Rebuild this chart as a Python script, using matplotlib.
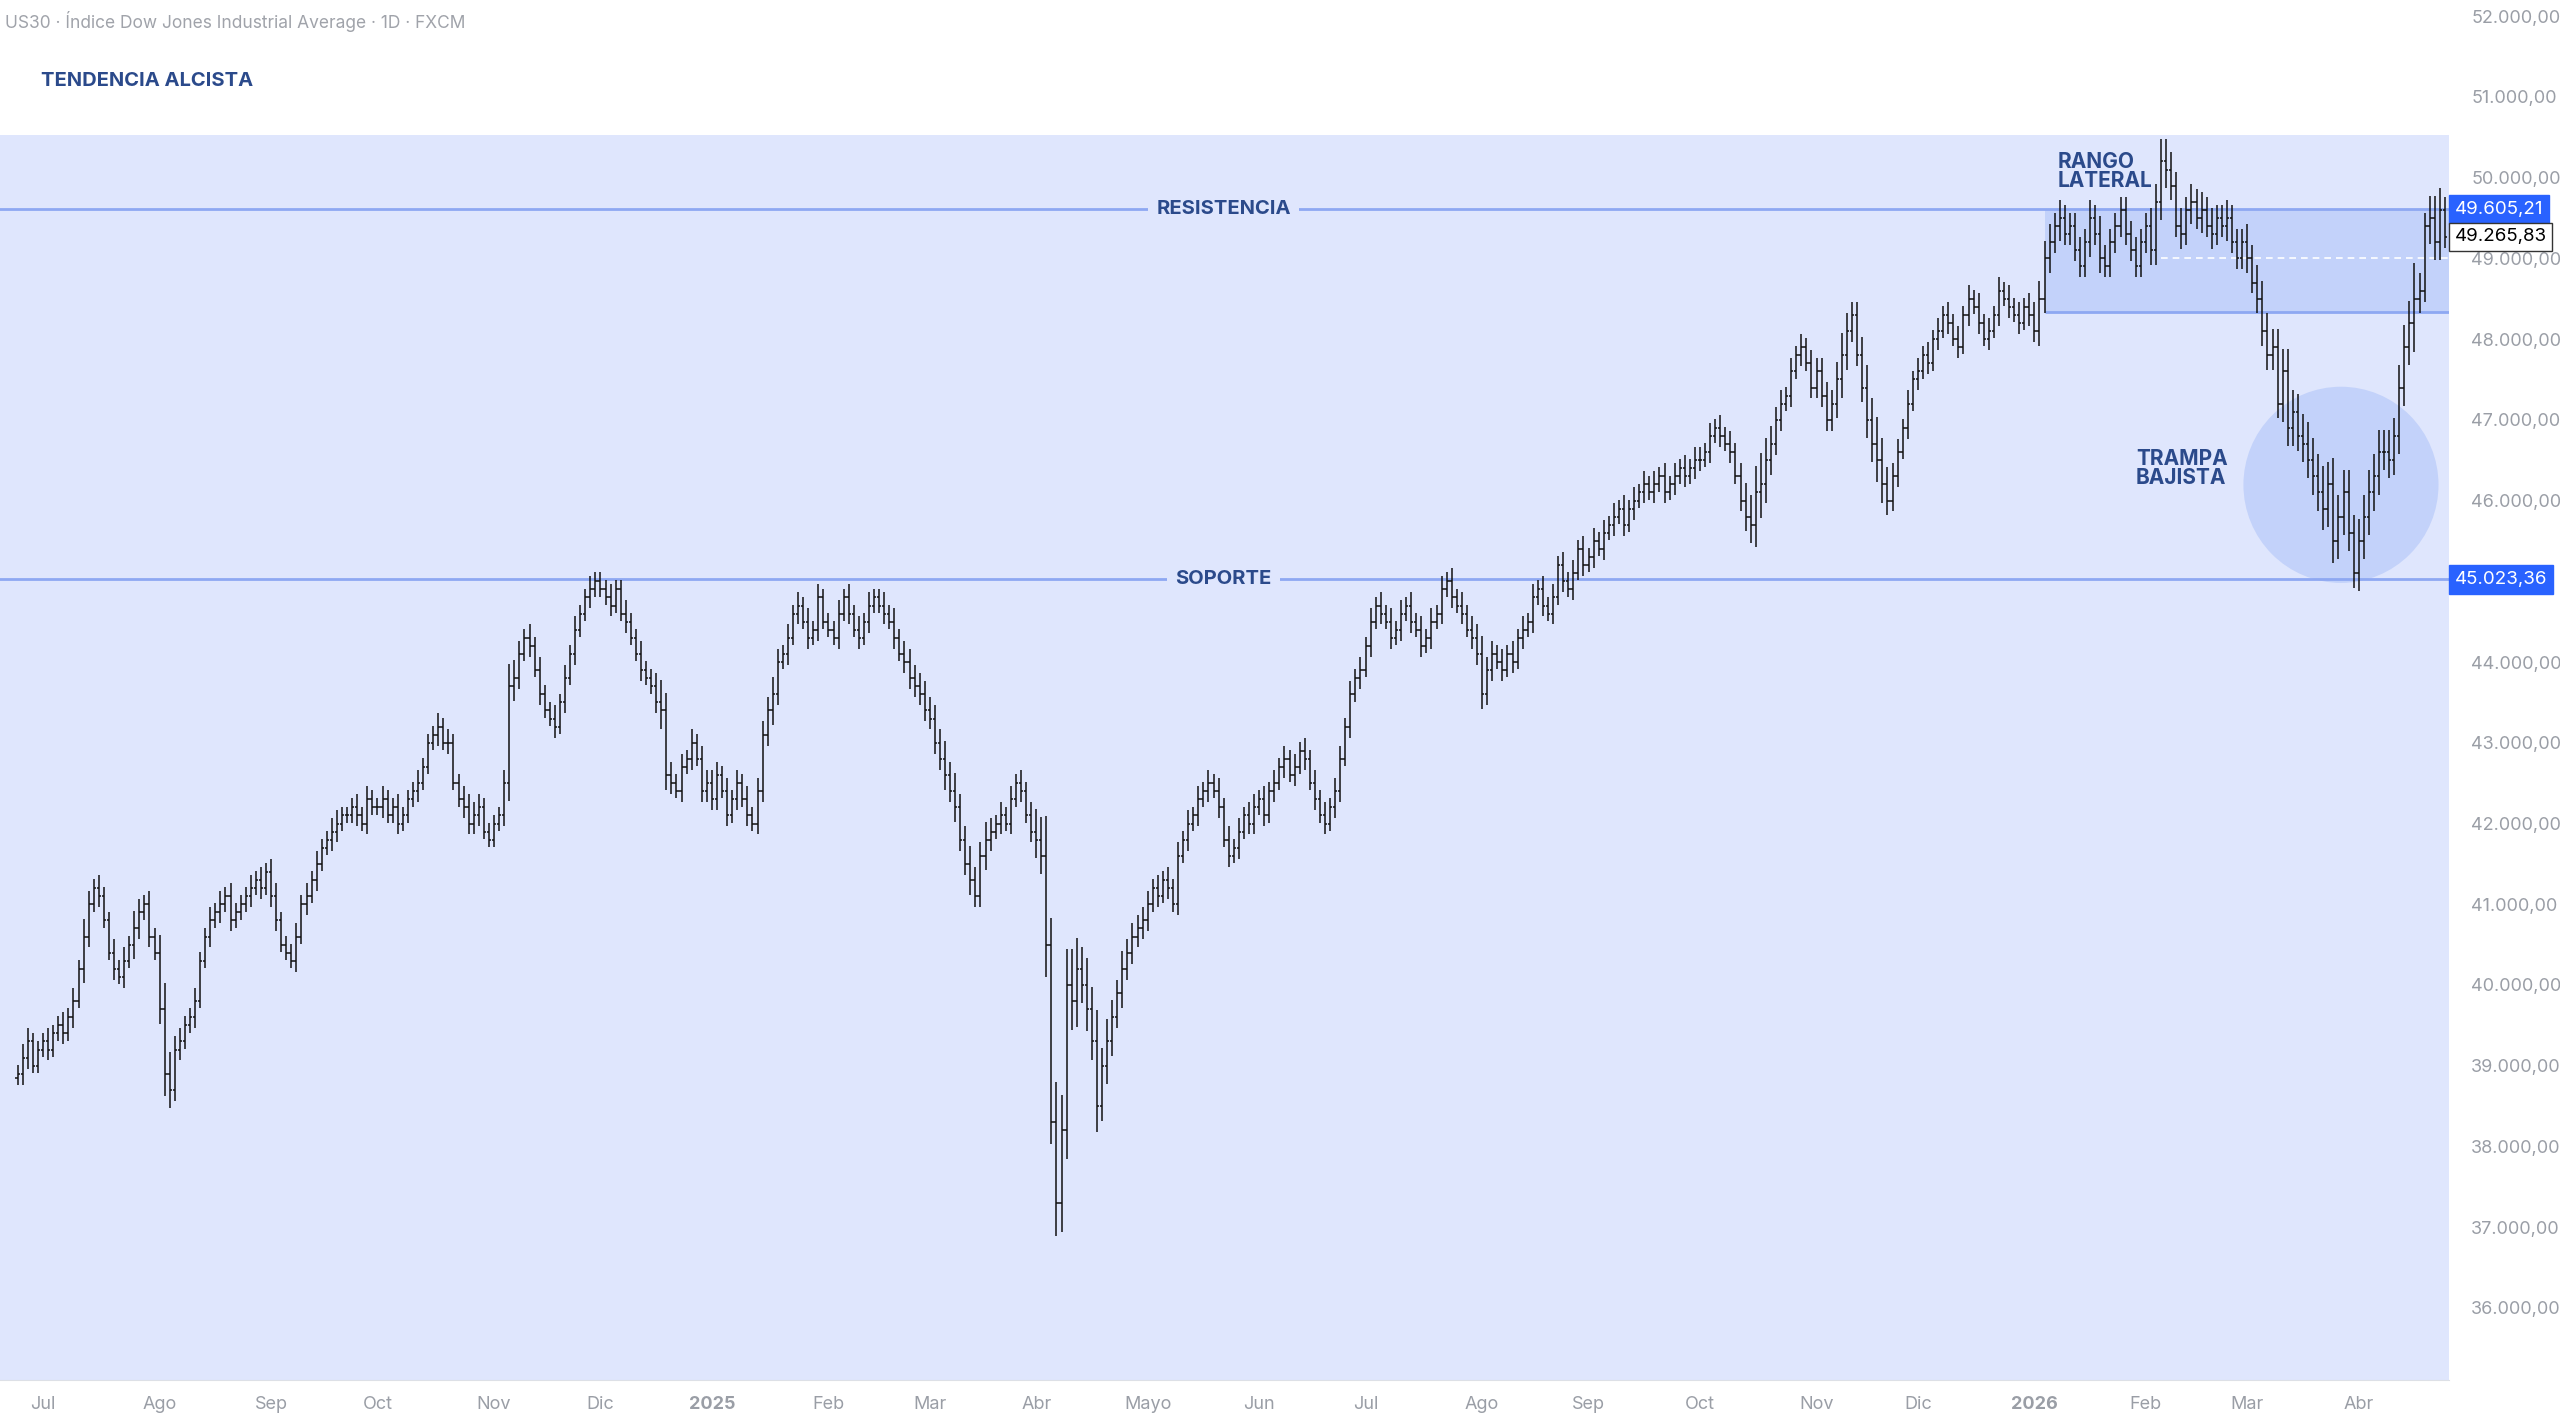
import numpy as np
import pandas as pd
import matplotlib
matplotlib.use("Agg")
import matplotlib.pyplot as plt
from matplotlib.patches import Rectangle, Ellipse

plt.rcParams['font.family'] = ['Inter', 'DejaVu Sans']

# daily closes in hundreds of points, grouped by month
closes_by_month = [
    [389, 391, 393, 390, 392],
    [393, 392, 394, 395, 394, 396, 398, 402, 406, 410, 412, 411, 408, 404, 402, 401, 403, 405, 407, 409, 410, 406, 404],
    [397, 389, 387, 392, 393, 395, 396, 398, 403, 406, 408, 409, 410, 411, 408, 409, 410, 411, 412, 413, 412, 414],
    [411, 408, 405, 404, 403, 406, 410, 411, 413, 415, 417, 418, 419, 420, 421, 421, 422, 421, 420, 423, 422],
    [422, 423, 421, 422, 420, 421, 423, 424, 425, 427, 430, 431, 432, 430, 430, 425, 423, 422, 420, 421, 422, 419, 418],
    [420, 421, 425, 437, 438, 441, 443, 442, 439, 436, 434, 433, 432, 435, 438, 441, 444, 446, 448, 449, 450],
    [449, 448, 447, 449, 446, 445, 443, 441, 439, 438, 437, 435, 434, 426, 425, 424, 427, 428, 430, 428, 424, 425],
    [423, 426, 424, 421, 423, 425, 423, 421, 420, 424, 431, 434, 436, 440, 441, 443, 446, 447, 445, 443, 444, 448, 445],
    [444, 443, 446, 448, 446, 444, 443, 445, 447, 448, 447, 446, 445, 443, 441, 440, 438, 437, 436, 434],
    [433, 430, 428, 426, 424, 422, 418, 415, 413, 411, 416, 418, 419, 420, 421, 420, 423, 425, 424, 421, 419],
    [418, 416, 405, 383, 373, 382, 400, 398, 402, 400, 397, 393, 385, 390, 393, 396, 399, 402, 404, 406, 407, 408],
    [410, 412, 411, 413, 412, 410, 416, 418, 420, 421, 423, 424, 425, 424, 422, 418, 416, 417, 419, 421, 420, 422],
    [423, 421, 424, 425, 427, 428, 426, 427, 429, 428, 425, 423, 421, 420, 422, 424, 428, 432, 436, 438, 439],
    [442, 445, 447, 446, 445, 443, 444, 446, 447, 445, 444, 442, 443, 445, 446, 449, 450, 448, 447, 446, 444, 443, 441],
    [436, 439, 441, 440, 439, 441, 440, 443, 444, 445, 448, 449, 447, 446, 448, 452, 450, 449, 451, 454, 452],
    [453, 455, 454, 456, 457, 458, 459, 457, 459, 460, 461, 462, 461, 462, 463, 461, 462, 463, 464, 463, 464, 465],
    [465, 466, 468, 469, 468, 467, 466, 463, 460, 458, 457, 461, 462, 465, 467, 470, 472, 473, 476, 478, 479, 477, 474],
    [476, 473, 470, 472, 475, 478, 481, 483, 478, 474, 470, 467, 465, 462, 460, 463, 466, 469, 472, 475],
    [476, 478, 477, 480, 481, 483, 482, 480, 479, 483, 485, 484, 482, 480, 481, 483, 486, 485, 484, 483, 482, 484, 483],
    [481, 485, 490, 492, 494, 495, 493, 494, 491, 489, 492, 495, 493, 490, 489, 492, 494, 496, 493, 491, 489, 492],
    [494, 491, 497, 502, 501, 499, 494, 493, 496, 497, 495, 496, 494, 493, 495, 494, 495, 492, 490, 492],
    [490, 487, 485, 481, 478, 479, 472, 476, 469, 471, 468, 467, 465, 463, 461, 459, 462, 455, 458, 461, 456, 451],
    [455, 458, 461, 463, 466, 466, 465, 468, 474, 479, 482, 485, 486, 494, 495, 492, 496, 492.66],
]
# daily range (hundreds of points), grouped by month
ranges_by_month = [
    "23322",
    "23223232432322323243232",
    "4653322322323232223232",
    "332223232322332223232",
    "23223222322232322333322",
    "223543232322323232232",
    "2232232232235432323233",
    "33232323233343232323232",
    "22323232322323233333",
    "333434334334323232323",
    "5596988875657454343333",
    "3232323232323232323233",
    "232323232323232332323",
    "23232323232323232323233",
    "43323232323232323232",
    "2323232323232323232323",
    "32323232345675433232323",
    "33334543345565433232",
    "32323232323232323232323",
    "3444343333343433333333",
    "34455434343434334333",
    "4344444555455556565554",
    "555555545558435553",
]

month_labels = ["Jul", "Ago", "Sep", "Oct", "Nov", "Dic", "2025", "Feb", "Mar", "Abr", "Mayo", "Jun",
                "Jul", "Ago", "Sep", "Oct", "Nov", "Dic", "2026", "Feb", "Mar", "Abr"]
resistance = 49605.21
support = 45023.36
range_low = 48330.0
last_price = 49265.83
y_ticks = [36000, 37000, 38000, 39000, 40000, 41000, 42000, 43000, 44000,
           46000, 47000, 48000, 49000, 50000, 51000, 52000]

closes = np.array([c for m in closes_by_month for c in m], dtype=float) * 100
spreads = []
for m, r in zip(closes_by_month, ranges_by_month):
    s = [int(ch) for ch in r][:len(m)]
    s += [3] * (len(m) - len(s))
    spreads += s
spreads = np.array(spreads, dtype=float) * 100
n = len(closes)
opens = np.concatenate([[closes[0] - 50], closes[:-1]])
highs = np.maximum(opens, closes) + spreads * 0.55
lows = np.minimum(opens, closes) - spreads * 0.45
dates = pd.bdate_range("2024-06-24", periods=n)

fig = plt.figure(figsize=(25.6, 14.14), dpi=100)
ax = fig.add_axes([0, 0.0242, 0.9566, 0.9758])
ax.set_xlim(-3.5, 479.8)
ax.set_ylim(35110, 52200)

ax.add_patch(Rectangle((-10, 30000), 600, 50523 - 30000, facecolor="#dfe6fd", edgecolor="none", zorder=0))
ax.add_patch(Rectangle((400, range_low), 90, resistance - range_low, facecolor="#c3d2fa", edgecolor="none", zorder=1))
ax.hlines([range_low], 400, 490, color="#8ea8f2", lw=2, zorder=2)
ax.add_patch(Ellipse((458.5, 46195), 38.5, 2430, facecolor="#c3d2fa", edgecolor="none", zorder=1))
ax.hlines([resistance, support], -10, 490, color="#8ea8f2", lw=2, zorder=2)
ax.hlines([49000], 423, 490, color="white", lw=1.2, ls=(0, (4, 3)), zorder=2)

x = np.arange(n)
ax.vlines(x, lows, highs, color="#111111", lw=1.1, zorder=3)
ax.hlines(opens, x - 0.45, x, color="#111111", lw=1.1, zorder=3)
ax.hlines(closes, x, x + 0.45, color="#111111", lw=1.1, zorder=3)

lbl_color = "#2b4a8b"
for txt, y in [("RESISTENCIA", resistance), ("SOPORTE", support)]:
    ax.text(238, y, txt, ha="center", va="center", fontsize=14.5, fontweight="bold", color=lbl_color,
            bbox=dict(facecolor="#dfe6fd", edgecolor="none", pad=6), zorder=4)
ax.text(402.5, 49830, "RANGO\nLATERAL", ha="left", va="bottom", fontsize=15, fontweight="bold",
        color=lbl_color, linespacing=0.95, zorder=4)
ax.text(418, 46150, "TRAMPA\nBAJISTA", ha="left", va="bottom", fontsize=15, fontweight="bold",
        color=lbl_color, linespacing=0.95, zorder=4)

# month ticks
first_idx = []
prev = None
for i, d in enumerate(dates):
    if (d.year, d.month) != prev:
        if prev is not None:
            first_idx.append(i)
        prev = (d.year, d.month)
ax.set_xticks(first_idx[:len(month_labels)])
ax.set_xticklabels(month_labels[:len(first_idx)])
for t in ax.get_xticklabels():
    t.set_color("#9a9ea6")
    t.set_fontsize(13)
    if t.get_text() in ("2025", "2026"):
        t.set_fontweight("bold")
ax.tick_params(axis="x", length=0, pad=12)

def fmt(v):
    return f"{v:,.2f}".replace(",", "X").replace(".", ",").replace("X", ".")

ax.yaxis.tick_right()
ax.set_yticks(y_ticks)
ax.set_yticklabels([fmt(v) for v in y_ticks])
ax.tick_params(axis="y", length=0, pad=16, labelsize=13, labelcolor="#9a9ea6")
for s in ax.spines.values():
    s.set_visible(False)
ax.spines["bottom"].set_visible(True)
ax.spines["bottom"].set_color("#dde0e6")

for v, fc, tc, ec, yv in [(resistance, "#2962ff", "white", "#2962ff", resistance),
                          (last_price, "white", "black", "#333333", 49265),
                          (support, "#2962ff", "white", "#2962ff", support)]:
    ax.annotate(fmt(v), xy=(1.0, yv), xycoords=("axes fraction", "data"), xytext=(4, 0),
                textcoords="offset points", ha="left", va="center", fontsize=13.5, color=tc,
                bbox=dict(boxstyle="square,pad=0.3", facecolor=fc, edgecolor=ec, lw=1), zorder=5,
                annotation_clip=False)

fig.text(0.002, 0.9925, "US30 · Índice Dow Jones Industrial Average · 1D · FXCM", ha="left", va="top",
         fontsize=12.5, color="#a0a3aa")
fig.text(0.016, 0.943, "TENDENCIA ALCISTA", ha="left", va="center", fontsize=14.5,
         fontweight="bold", color=lbl_color)

fig.savefig("out.png", dpi=100, facecolor="white")
